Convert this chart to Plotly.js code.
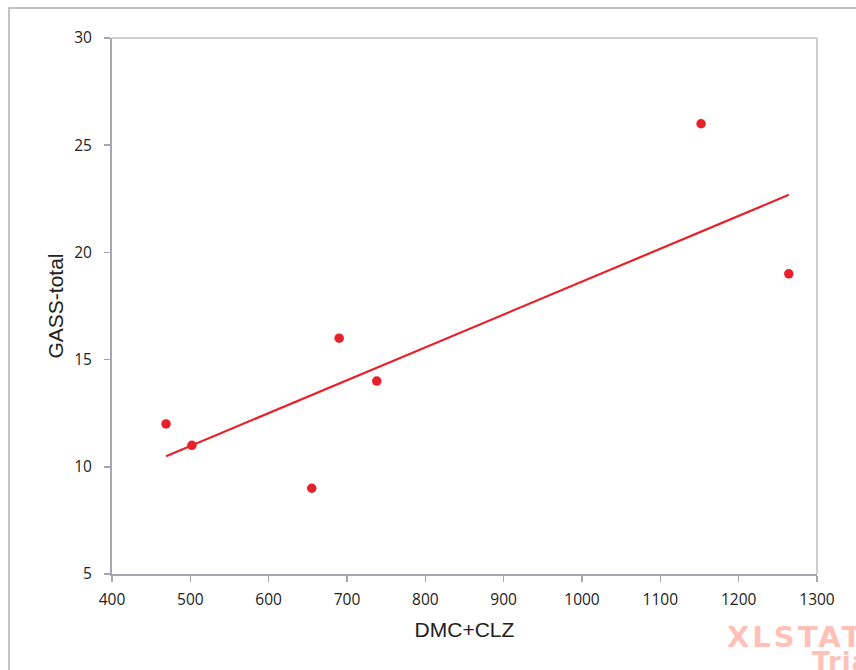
<!DOCTYPE html>
<html>
<head>
<meta charset="utf-8">
<script src="https://cdn.plot.ly/plotly-3.0.1.min.js"></script>
<style>html,body{margin:0;padding:0;background:#fff;}#chart{width:856px;height:670px;}</style>
</head>
<body>
<div id="chart"></div>
<script>
const dmcClz = [469, 502, 655, 690, 738, 1152, 1264];
const gassTotal = [12, 11, 9, 16, 14, 26, 19];
const xTicks = [400, 500, 600, 700, 800, 900, 1000, 1100, 1200, 1300];
const yTicks = [5, 10, 15, 20, 25, 30];

// least-squares fit line through the data
const n = dmcClz.length;
const mx = dmcClz.reduce((a, b) => a + b, 0) / n;
const my = gassTotal.reduce((a, b) => a + b, 0) / n;
let sxy = 0, sxx = 0;
for (let i = 0; i < n; i++) { sxy += (dmcClz[i] - mx) * (gassTotal[i] - my); sxx += (dmcClz[i] - mx) ** 2; }
const slope = sxy / sxx, icpt = my - slope * mx;
const xmin = Math.min(...dmcClz), xmax = Math.max(...dmcClz);
const fitX = [xmin, xmax];
const fitY = fitX.map(x => icpt + slope * x);

const red = '#e8202a';
const axisCol = '#a6a6ae';
const data = [
  {x: fitX, y: fitY, type: 'scatter', mode: 'lines', line: {color: red, width: 2.2}, hoverinfo: 'skip', showlegend: false},
  {x: dmcClz, y: gassTotal, type: 'scatter', mode: 'markers', marker: {color: red, size: 9.5}, showlegend: false}
];
const tickFont = {family: 'Open Sans, Liberation Sans, sans-serif', size: 15.5, color: '#222'};
const titleFont = {family: 'Liberation Sans, Arial, sans-serif', size: 21, color: '#222'};
const wmFont = {family: 'DejaVu Sans, Liberation Sans, sans-serif', size: 29, weight: 700, color: 'rgba(255,140,120,0.55)'};
const layout = {
  width: 856, height: 670,
  margin: {l: 112, r: 39, t: 38, b: 96},
  paper_bgcolor: '#fff', plot_bgcolor: '#fff',
  xaxis: {
    range: [400, 1300], tickvals: xTicks, ticktext: xTicks.map(String),
    showgrid: false, zeroline: false, showline: true, linecolor: axisCol, linewidth: 2,
    ticks: 'outside', ticklen: 6, tickcolor: axisCol, tickwidth: 1.5,
    ticklabelstandoff: 4,
    tickfont: tickFont,
    title: {text: 'DMC+CLZ', font: titleFont, standoff: 14}
  },
  yaxis: {
    range: [5, 30], tickvals: yTicks, ticktext: yTicks.map(String),
    showgrid: false, zeroline: false, showline: true, linecolor: axisCol, linewidth: 2,
    ticks: 'outside', ticklen: 6, tickcolor: axisCol, tickwidth: 1.5,
    ticklabelstandoff: 9,
    tickfont: tickFont,
    title: {text: 'GASS-total', font: titleFont, standoff: 5}
  },
  shapes: [
    {type: 'rect', xref: 'paper', yref: 'paper', x0: -0.1461, x1: 1.3, y0: -0.4, y1: 1.0560, line: {color: '#b0b0b0', width: 1.5}, fillcolor: 'rgba(0,0,0,0)', layer: 'below'},
    {type: 'line', xref: 'paper', yref: 'paper', x0: 0, x1: 1, y0: 1, y1: 1, line: {color: '#cfcfcf', width: 2}},
    {type: 'line', xref: 'paper', yref: 'paper', x0: 1, x1: 1, y0: 0, y1: 1, line: {color: '#cfcfcf', width: 2}}
  ],
  annotations: [
    {text: 'XLSTAT', xref: 'paper', yref: 'paper', x: (725 - 112) / 705, y: (574 - 637) / 536, xanchor: 'left', yanchor: 'middle', showarrow: false,
     font: wmFont},
    {text: 'Tria', xref: 'paper', yref: 'paper', x: (810 - 112) / 705, y: (574 - 645) / 536, xanchor: 'left', yanchor: 'top', showarrow: false,
     font: Object.assign({}, wmFont, {size: 26})}
  ]
};
Plotly.newPlot('chart', data, layout, {displayModeBar: false, staticPlot: true}).then(function () {
  const anns = document.querySelectorAll('.annotation-text');
  const spacing = [3, 1];
  anns.forEach(function (el, i) {
    const ls = spacing[i] || 0;
    const nch = (el.textContent || '').length;
    el.style.letterSpacing = ls + 'px';
    el.style.transform = 'translateX(' + (ls * nch / 2) + 'px)';
  });
});
</script>
</body>
</html>
